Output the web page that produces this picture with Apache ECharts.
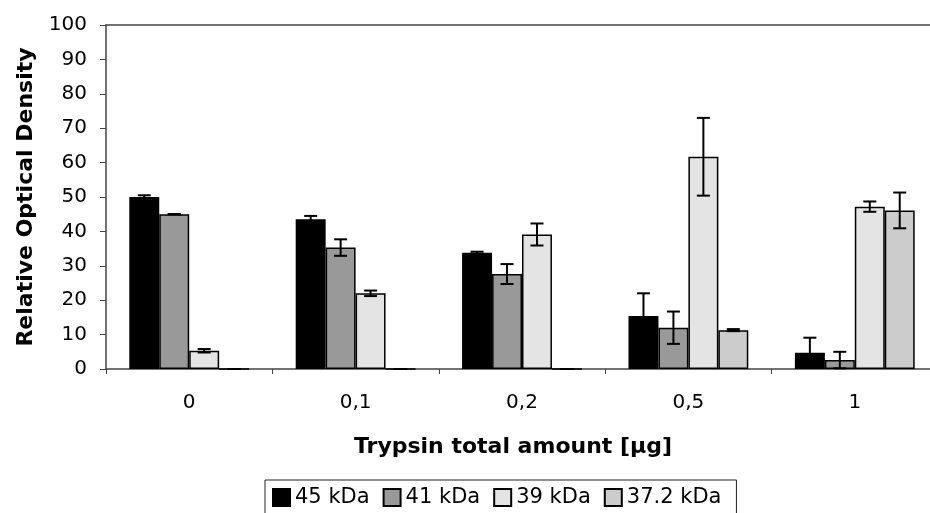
<!DOCTYPE html>
<html><head><meta charset="utf-8">
<script src="https://cdn.jsdelivr.net/npm/echarts@6/dist/echarts.min.js"></script>
<style>html,body{margin:0;padding:0;background:#fff;overflow:hidden}#c{width:940px;height:513px}</style>
</head><body><div id="c"></div>
<script>
const categories = ['0', '0,1', '0,2', '0,5', '1'];
const seriesNames = ['45 kDa', '41 kDa', '39 kDa', '37.2 kDa'];
const v45 = [50, 43.5, 33.8, 15.4, 4.7];
const v41 = [45, 35.3, 27.6, 12, 2.6];
const v39 = [5.3, 22, 39.1, 61.7, 47.2];
const v37 = [0, 0, 0, 11.3, 46.1];
const e45 = [0.5, 1.0, 0.3, 6.6, 4.4];
const e41 = [0, 2.4, 2.9, 4.7, 2.4];
const e39 = [0.5, 0.8, 3.2, 11.3, 1.5];
const e37 = [0, 0, 0, 0.3, 5.2];
const yTicks = [0, 10, 20, 30, 40, 50, 60, 70, 80, 90, 100];

const values = [v45, v41, v39, v37];
const errors = [e45, e41, e39, e37];
const colors = ['#000000', '#999999', '#e4e4e4', '#cccccc'];
const FONT = 'DejaVu Sans';
const GAP = 0.28;

const barSeries = seriesNames.map((n, i) => ({
  name: n, type: 'bar', data: values[i], barGap: 0, barCategoryGap: '28%',
  itemStyle: { color: colors[i], borderColor: '#000', borderWidth: 1.5 },
  z: 2
}));

const errSeries = seriesNames.map((n, i) => ({
  name: n + ' err', type: 'custom',
  data: categories.map((c, k) => [k, values[i][k], errors[i][k]]),
  z: 5,
  renderItem: function (params, api) {
    const k = api.value(0), v = api.value(1), e = api.value(2);
    const band = api.size([1, 0])[0];
    const bw = band * (1 - GAP) / 4;
    const off = (i - 1.5) * bw;
    const t = api.coord([k, v + e]);
    const b = api.coord([k, v - e]);
    const x = t[0] + off;
    const cap = 6.5;
    const st = { stroke: '#000', lineWidth: 2 };
    return { type: 'group', children: [
      { type: 'line', shape: { x1: x, y1: t[1], x2: x, y2: b[1] }, style: st },
      { type: 'line', shape: { x1: x - cap, y1: t[1], x2: x + cap, y2: t[1] }, style: st },
      { type: 'line', shape: { x1: x - cap, y1: b[1], x2: x + cap, y2: b[1] }, style: st }
    ]};
  }
}));

const chart = echarts.init(document.getElementById('c'), null, { renderer: 'canvas' });
chart.setOption({
  animation: false,
  textStyle: { fontFamily: FONT },
  grid: { left: 106, top: 25, right: 2, bottom: 144, show: false, containLabel: false },
  legend: {
    data: seriesNames, left: 265, top: 480, padding: [7, 15, 10, 7], itemGap: 13,
    itemWidth: 17, itemHeight: 17, icon: 'rect',
    borderColor: '#222', borderWidth: 1,
    textStyle: { fontFamily: FONT, fontSize: 21, color: '#000' }
  },
  xAxis: [{
    type: 'category', data: categories,
    name: 'Trypsin total amount [μg]', nameLocation: 'middle', nameGap: 67,
    nameTextStyle: { fontFamily: FONT, fontSize: 22, fontWeight: 'bold', color: '#000', padding: [0, 18, 0, 0] },
    axisLine: { lineStyle: { color: '#444', width: 1.5 } },
    axisTick: { show: true, length: 5, lineStyle: { color: '#444' } },
    axisLabel: { fontFamily: FONT, fontSize: 20, color: '#000', margin: 24 }
  }, {
    type: 'category', data: categories, position: 'top',
    axisLine: { show: true, lineStyle: { color: '#444', width: 1.5 } },
    axisTick: { show: false }, axisLabel: { show: false }
  }],
  yAxis: {
    type: 'value', min: 0, max: 100, interval: 10,
    name: 'Relative Optical Density', nameLocation: 'middle', nameGap: 69,
    nameTextStyle: { fontFamily: FONT, fontSize: 22, fontWeight: 'bold', color: '#000' },
    axisLine: { show: true, lineStyle: { color: '#444', width: 1.5 } },
    axisTick: { show: true, length: 6, lineStyle: { color: '#444' } },
    splitLine: { show: false },
    axisLabel: { fontFamily: FONT, fontSize: 20, color: '#000', margin: 19,
      formatter: v => yTicks.includes(v) ? String(v) : '' }
  },
  series: [...barSeries, ...errSeries]
});
</script></body></html>
